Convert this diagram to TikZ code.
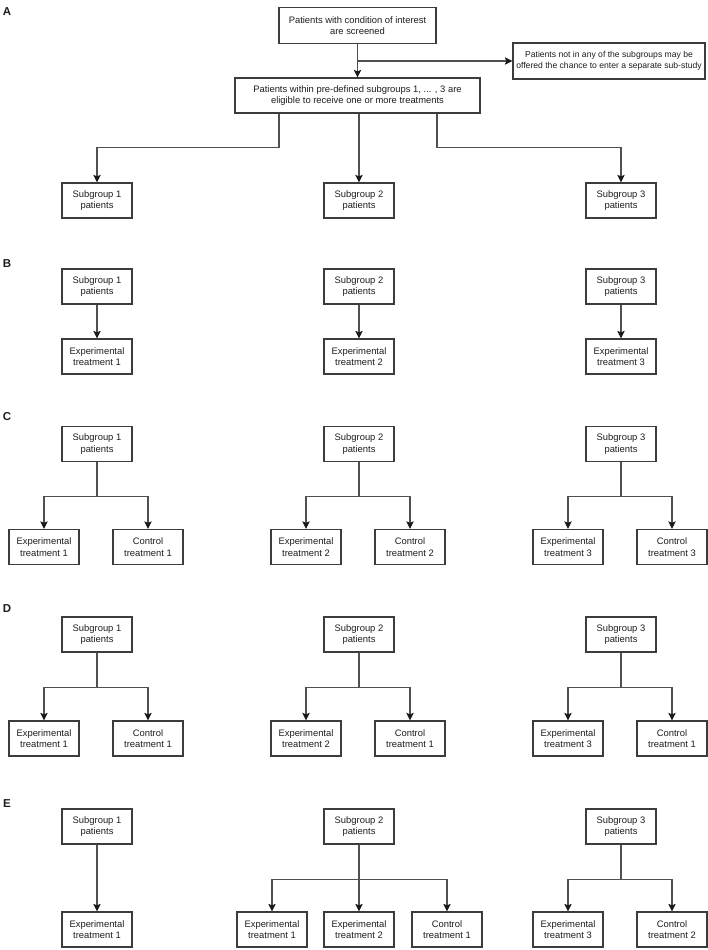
\documentclass[tikz,border=0pt]{standalone}
\usepackage{fontspec}
\setmainfont{Liberation Sans}
\usetikzlibrary{arrows.meta}
\definecolor{boxc}{HTML}{3C3C3C}
\definecolor{linec}{HTML}{505050}
\definecolor{tipc}{HTML}{1A1A1A}
\definecolor{txtc}{HTML}{1E1E1E}
\begin{document}
\begin{tikzpicture}[x=1pt,y=-1pt,
  box/.style={draw=boxc, line width=1.3pt, minimum width=70pt, minimum height=35pt,
    inner sep=0pt, align=center, text=txtc, font=\fontsize{9.4}{11.7}\selectfont},
  conn/.style={draw=linec, line width=1.1pt},
  arr/.style={conn, -{Stealth[length=7.5pt,width=7.5pt,inset=1.5pt,color=tipc]}},
  lab/.style={font=\fontsize{11.5}{12}\selectfont\bfseries, text=txtc, inner sep=0pt}]
\useasboundingbox (0,0) rectangle (708,950);
\fill[white] (0,0) rectangle (708,950);

% ---------- A ----------
\node[lab] (lA) at (7,12) {A};
\node[box, minimum width=157pt, minimum height=36pt] (top) at (357.5,25.5)
  {Patients with condition of interest\\are screened};
\node[box, minimum width=192pt, minimum height=36pt, font=\fontsize{8.6}{11}\selectfont] (right) at (609,61)
  {Patients not in any of the subgroups may be\\offered the chance to enter a separate sub-study};
\node[box, minimum width=245pt, minimum height=35pt] (mid) at (357.5,95.5)
  {Patients within pre-defined subgroups 1, ... , 3 are\\eligible to receive one or more treatments};
\node[box] (a1) at (97,200.5) {Subgroup 1\\patients};
\node[box] (a2) at (359,200.5) {Subgroup 2\\patients};
\node[box] (a3) at (621,200.5) {Subgroup 3\\patients};
\draw[arr] (top.south) -- (mid.north);
\coordinate (tj) at (top.south |- right.west);
\draw[arr] (tj) -- (right.west);
\draw[arr] ([xshift=-78.5pt]mid.south) -- ++(0,34) -| (a1.north);
\draw[arr] ([xshift=1.5pt]mid.south) -- (a2.north);
\draw[arr] ([xshift=79.5pt]mid.south) -- ++(0,34) -| (a3.north);

% ---------- B ----------
\node[lab] (lB) at (7,264) {B};
\node[box] (b1) at (97,286.5) {Subgroup 1\\patients};
\node[box] (b2) at (359,286.5) {Subgroup 2\\patients};
\node[box] (b3) at (621,286.5) {Subgroup 3\\patients};
\node[box] (b1e) at (97,356.5) {Experimental\\treatment 1};
\node[box] (b2e) at (359,356.5) {Experimental\\treatment 2};
\node[box] (b3e) at (621,356.5) {Experimental\\treatment 3};
\draw[arr] (b1) -- (b1e);
\draw[arr] (b2) -- (b2e);
\draw[arr] (b3) -- (b3e);

% ---------- C ----------
\node[lab] (lC) at (7,417) {C};
\node[box] (c1) at (97,444) {Subgroup 1\\patients};
\node[box] (c2) at (359,444) {Subgroup 2\\patients};
\node[box] (c3) at (621,444) {Subgroup 3\\patients};
\node[box] (c1e) at (44,547) {Experimental\\treatment 1};
\node[box] (c1c) at (148,547) {Control\\treatment 1};
\node[box] (c2e) at (306,547) {Experimental\\treatment 2};
\node[box] (c2c) at (410,547) {Control\\treatment 2};
\node[box] (c3e) at (568,547) {Experimental\\treatment 3};
\node[box] (c3c) at (672,547) {Control\\treatment 3};
\foreach \g in {1,2,3}{
  \coordinate (cj\g) at ([yshift=-34.5pt]c\g.south);
  \draw[conn] (c\g.south) -- (cj\g);
  \draw[arr] (cj\g) -| (c\g e.north);
  \draw[arr] (cj\g) -| (c\g c.north);
}

% ---------- D ----------
\node[lab] (lD) at (7,609) {D};
\node[box] (d1) at (97,634.5) {Subgroup 1\\patients};
\node[box] (d2) at (359,634.5) {Subgroup 2\\patients};
\node[box] (d3) at (621,634.5) {Subgroup 3\\patients};
\node[box] (d1e) at (44,738.5) {Experimental\\treatment 1};
\node[box] (d1c) at (148,738.5) {Control\\treatment 1};
\node[box] (d2e) at (306,738.5) {Experimental\\treatment 2};
\node[box] (d2c) at (410,738.5) {Control\\treatment 1};
\node[box] (d3e) at (568,738.5) {Experimental\\treatment 3};
\node[box] (d3c) at (672,738.5) {Control\\treatment 1};
\foreach \g in {1,2,3}{
  \coordinate (dj\g) at ([yshift=-35pt]d\g.south);
  \draw[conn] (d\g.south) -- (dj\g);
  \draw[arr] (dj\g) -| (d\g e.north);
  \draw[arr] (dj\g) -| (d\g c.north);
}

% ---------- E ----------
\node[lab] (lE) at (7,804) {E};
\node[box] (e1) at (97,826.5) {Subgroup 1\\patients};
\node[box] (e2) at (359,826.5) {Subgroup 2\\patients};
\node[box] (e3) at (621,826.5) {Subgroup 3\\patients};
\node[box] (e1e) at (97,929.5) {Experimental\\treatment 1};
\node[box] (e2a) at (272,929.5) {Experimental\\treatment 1};
\node[box] (e2b) at (359,929.5) {Experimental\\treatment 2};
\node[box] (e2c) at (447,929.5) {Control\\treatment 1};
\node[box] (e3e) at (568,929.5) {Experimental\\treatment 3};
\node[box] (e3c) at (672,929.5) {Control\\treatment 2};
\draw[arr] (e1) -- (e1e);
\coordinate (ej2) at ([yshift=-34.5pt]e2.south);
\draw[arr] (e2) -- (e2b);
\draw[arr] (ej2) -| (e2a.north);
\draw[arr] (ej2) -| (e2c.north);
\coordinate (ej3) at ([yshift=-34.5pt]e3.south);
\draw[conn] (e3.south) -- (ej3);
\draw[arr] (ej3) -| (e3e.north);
\draw[arr] (ej3) -| (e3c.north);
\end{tikzpicture}
\end{document}
